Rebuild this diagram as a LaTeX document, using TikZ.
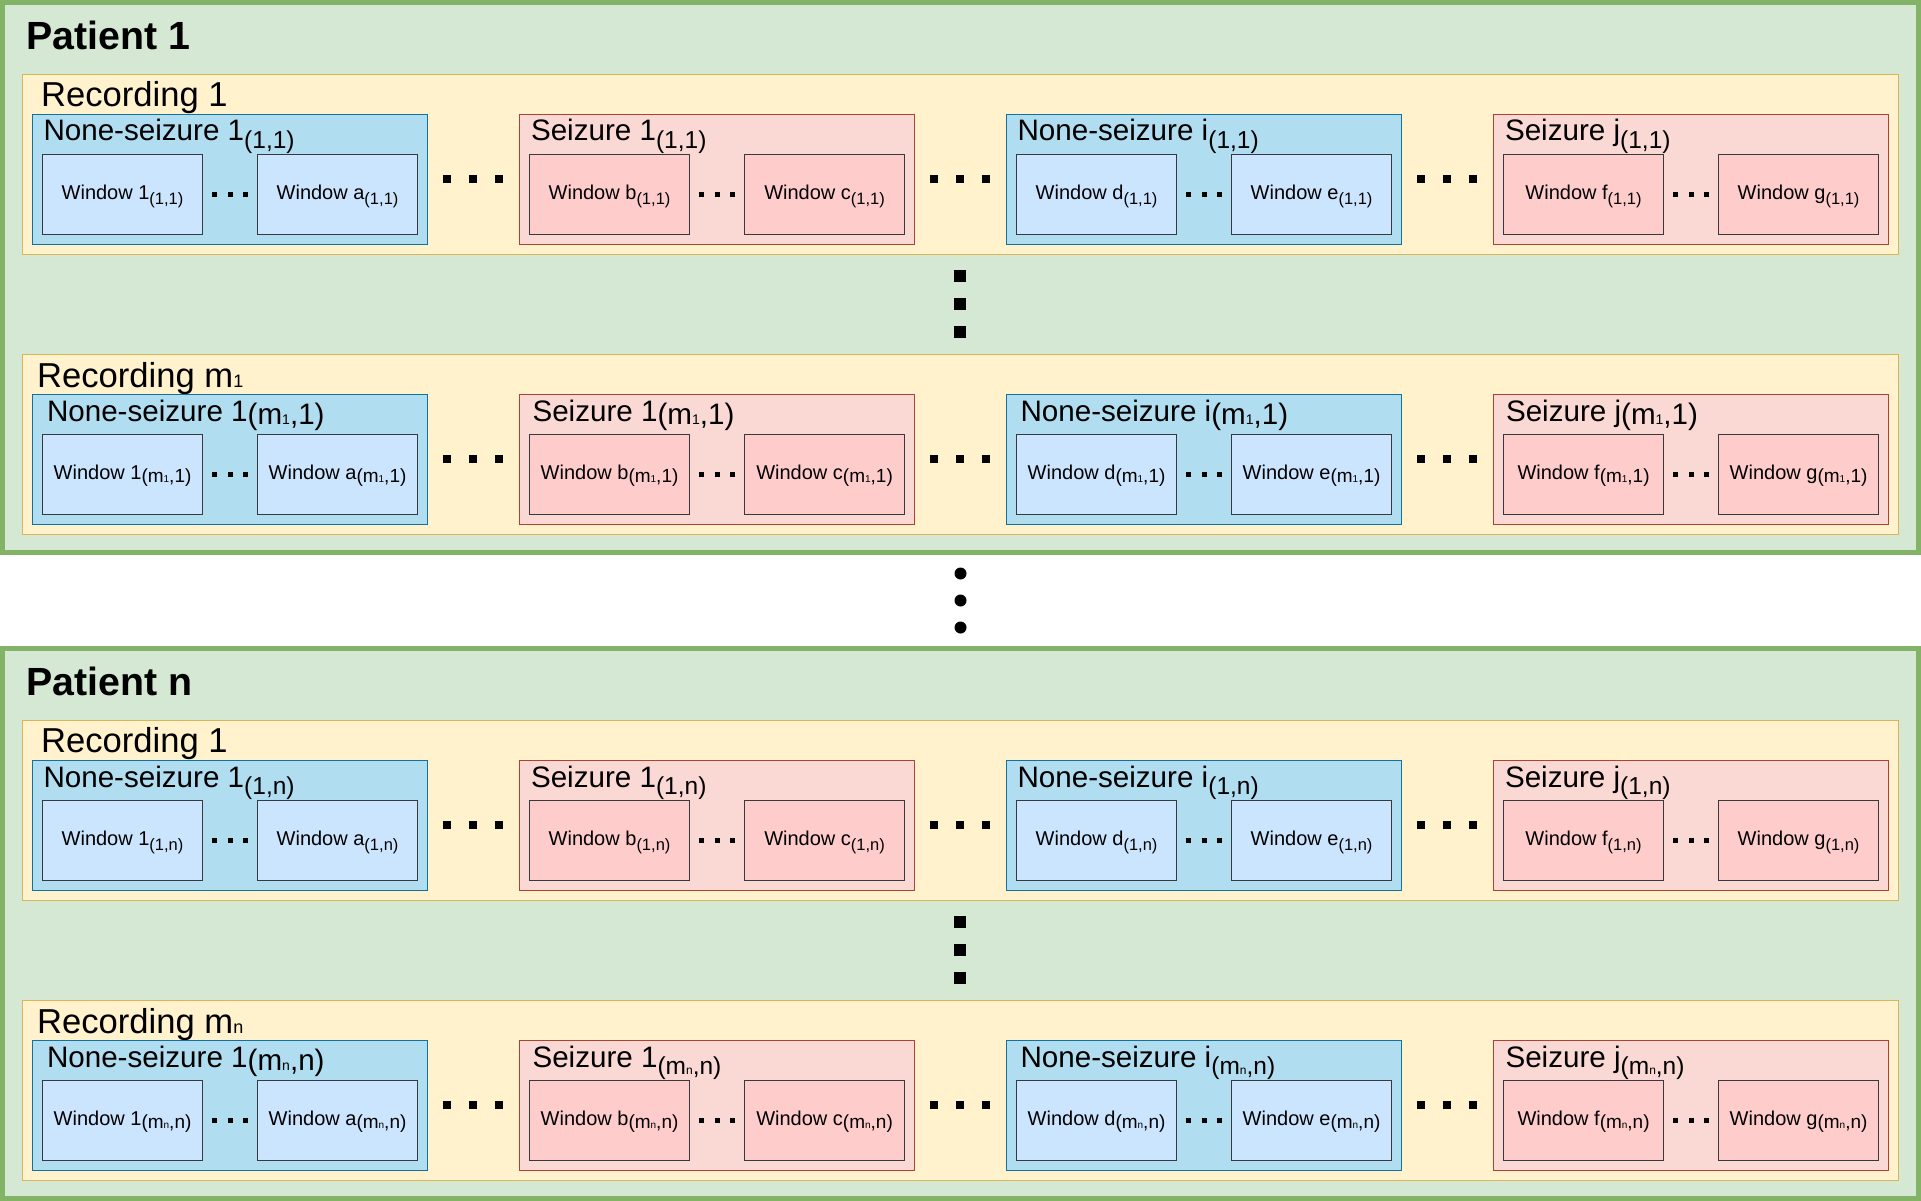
\documentclass[tikz,border=0pt]{standalone}
\usepackage{fontspec}
\setmainfont{Liberation Sans}
\usetikzlibrary{calc}
\definecolor{pgfill}{HTML}{D5E8D4}
\definecolor{pgline}{HTML}{82B366}
\definecolor{rcfill}{HTML}{FFF2CC}
\definecolor{rcline}{HTML}{D6B656}
\definecolor{nbfill}{HTML}{B1DDF0}
\definecolor{nbline}{HTML}{10739E}
\definecolor{szfill}{HTML}{FAD9D5}
\definecolor{szline}{HTML}{AE4132}
\definecolor{nwfill}{HTML}{CCE5FF}
\definecolor{swfill}{HTML}{FFCCCC}
\definecolor{wline}{HTML}{36393D}
\tikzset{
  box/.style={rectangle, inner sep=0pt, outer sep=0pt, anchor=north west},
  patbox/.style={box, fill=pgfill, draw=pgline, line width=5pt, minimum width=1916pt, minimum height=550pt},
  recbox/.style={box, fill=rcfill, draw=rcline, line width=1.3pt, minimum width=1876pt, minimum height=180pt},
  nbgrp/.style={box, fill=nbfill, draw=nbline, line width=1.3pt, minimum width=395pt, minimum height=130pt},
  szgrp/.style={box, fill=szfill, draw=szline, line width=1.3pt, minimum width=395pt, minimum height=130pt},
  nbwin/.style={box, fill=nwfill, draw=wline, line width=1.3pt, minimum width=160.5pt, minimum height=80pt},
  szwin/.style={box, fill=swfill, draw=wline, line width=1.3pt, minimum width=160.5pt, minimum height=80pt},
  plabel/.style={inner sep=0pt, anchor=base west, font=\fontsize{39.3}{40}\selectfont\bfseries},
  rlabel/.style={inner sep=0pt, anchor=base west, font=\fontsize{34.6}{35}\selectfont},
  glabel/.style={inner sep=0pt, anchor=base west, font=\fontsize{29.6}{30}\selectfont},
  wlabel/.style={inner sep=0pt, anchor=base, font=\fontsize{20}{20}\selectfont},
  sdot/.style={rectangle, fill=black, inner sep=0pt, minimum size=5pt},
  bdot/.style={rectangle, fill=black, inner sep=0pt, minimum size=8pt},
  vdot/.style={rectangle, fill=black, inner sep=0pt, minimum size=12pt},
  cdot/.style={circle, fill=black, inner sep=0pt, minimum size=12pt},
}
\newcommand\gsubx[1]{\raisebox{-7.5pt}{\fontsize{24.5}{25}\selectfont #1}}
\newcommand\wsubx[1]{\raisebox{-5pt}{\fontsize{16.5}{17}\selectfont #1}}
\newcommand\ginl[1]{\raisebox{-3pt}{#1}}
\newcommand\winl[1]{\raisebox{-2.5pt}{\fontsize{19}{19}\selectfont #1}}
\newcommand\tidx[2]{{\fontsize{#1}{#1}\selectfont #2}}
% #1 id, #2 x, #3 y, #4 nb/sz, #5 label, #6 win1, #7 win2, #8 label x offset
\newcommand\grp[8]{%
  \node[#4grp] (#1) at (#2,#3) {};
  \node[glabel] (#1-t) at ($(#1.north west)+(#8,26.7)$) {#5};
  \node[#4win] (#1-a) at ($(#1.north west)+(10,40)$) {};
  \node[#4win] (#1-b) at ($(#1.north west)+(225,40)$) {};
  \node[wlabel] (#1-at) at ($(#1-a.center)+(0,5.5)$) {#6};
  \node[wlabel] (#1-bt) at ($(#1-b.center)+(0,5.5)$) {#7};
  \foreach \i/\d in {1/-15.3,2/0,3/15.3}
    \node[sdot] (#1-s\i) at ($(#1-a.east)!0.5!(#1-b.west)+(\d,0)$) {};
}
\newcommand\gapdots[1]{%
  \foreach \p/\q in {1/2,2/3,3/4}{
    \foreach \i/\d in {1/-26,2/0,3/26}
      \node[bdot] (#1-d\p\i) at ($(#1-g\p.east)!0.5!(#1-g\q.west)+(\d,0)$) {};
  }%
}
\begin{document}
\begin{tikzpicture}[x=1pt,y=-1pt]
\useasboundingbox (0,0) rectangle (1921,1201);
% ---------- Patient 1 ----------
\node[patbox] (p1) at (2.5,2.5) {};
\node[plabel] (p1-t) at (26,49.5) {Patient 1};
\node[recbox] (p1r1) at (22.3,74.3) {};
\node[rlabel] (p1r1-t) at (41,106.8) {Recording 1};
\grp{p1r1-g1}{32.3}{114.3}{nb}{None-seizure 1\gsubx{(1,1)}}{Window 1\wsubx{(1,1)}}{Window a\wsubx{(1,1)}}{11}
\grp{p1r1-g2}{519.3}{114.3}{sz}{Seizure 1\gsubx{(1,1)}}{Window b\wsubx{(1,1)}}{Window c\wsubx{(1,1)}}{11.5}
\grp{p1r1-g3}{1006.3}{114.3}{nb}{None-seizure i\gsubx{(1,1)}}{Window d\wsubx{(1,1)}}{Window e\wsubx{(1,1)}}{11}
\grp{p1r1-g4}{1493.3}{114.3}{sz}{Seizure j\gsubx{(1,1)}}{Window f\wsubx{(1,1)}}{Window g\wsubx{(1,1)}}{11.5}
\gapdots{p1r1}
\node[recbox] (p1rm) at (22.3,354.3) {};
\node[rlabel] (p1rm-t) at (37,387.3) {Recording m\tidx{18}{1}};
\grp{p1rm-g1}{32.3}{394.3}{nb}{None-seizure 1\ginl{(m\tidx{14}{1},1)}}{Window 1\winl{(m\tidx{10}{1},1)}}{Window a\winl{(m\tidx{10}{1},1)}}{14.5}
\grp{p1rm-g2}{519.3}{394.3}{sz}{Seizure 1\ginl{(m\tidx{14}{1},1)}}{Window b\winl{(m\tidx{10}{1},1)}}{Window c\winl{(m\tidx{10}{1},1)}}{13}
\grp{p1rm-g3}{1006.3}{394.3}{nb}{None-seizure i\ginl{(m\tidx{14}{1},1)}}{Window d\winl{(m\tidx{10}{1},1)}}{Window e\winl{(m\tidx{10}{1},1)}}{14}
\grp{p1rm-g4}{1493.3}{394.3}{sz}{Seizure j\ginl{(m\tidx{14}{1},1)}}{Window f\winl{(m\tidx{10}{1},1)}}{Window g\winl{(m\tidx{10}{1},1)}}{12.5}
\gapdots{p1rm}
\foreach \i/\d in {1/-28,2/0,3/28}
  \node[vdot] (p1-v\i) at ($(p1r1.south)!0.5!(p1rm.north)+(0,\d)$) {};
% ---------- Patient n ----------
\node[patbox] (pn) at (2.5,648.5) {};
\node[plabel] (pn-t) at (26,695.5) {Patient n};
\node[recbox] (pnr1) at (22.3,720.3) {};
\node[rlabel] (pnr1-t) at (41,752.8) {Recording 1};
\grp{pnr1-g1}{32.3}{760.3}{nb}{None-seizure 1\gsubx{(1,n)}}{Window 1\wsubx{(1,n)}}{Window a\wsubx{(1,n)}}{11}
\grp{pnr1-g2}{519.3}{760.3}{sz}{Seizure 1\gsubx{(1,n)}}{Window b\wsubx{(1,n)}}{Window c\wsubx{(1,n)}}{11.5}
\grp{pnr1-g3}{1006.3}{760.3}{nb}{None-seizure i\gsubx{(1,n)}}{Window d\wsubx{(1,n)}}{Window e\wsubx{(1,n)}}{11}
\grp{pnr1-g4}{1493.3}{760.3}{sz}{Seizure j\gsubx{(1,n)}}{Window f\wsubx{(1,n)}}{Window g\wsubx{(1,n)}}{11.5}
\gapdots{pnr1}
\node[recbox] (pnrm) at (22.3,1000.3) {};
\node[rlabel] (pnrm-t) at (37,1033.3) {Recording m\tidx{18}{n}};
\grp{pnrm-g1}{32.3}{1040.3}{nb}{None-seizure 1\ginl{(m\tidx{14}{n},n)}}{Window 1\winl{(m\tidx{10}{n},n)}}{Window a\winl{(m\tidx{10}{n},n)}}{14.5}
\grp{pnrm-g2}{519.3}{1040.3}{sz}{Seizure 1\gsubx{(m\tidx{12}{n},n)}}{Window b\winl{(m\tidx{10}{n},n)}}{Window c\winl{(m\tidx{10}{n},n)}}{13}
\grp{pnrm-g3}{1006.3}{1040.3}{nb}{None-seizure i\gsubx{(m\tidx{12}{n},n)}}{Window d\winl{(m\tidx{10}{n},n)}}{Window e\winl{(m\tidx{10}{n},n)}}{14}
\grp{pnrm-g4}{1493.3}{1040.3}{sz}{Seizure j\gsubx{(m\tidx{12}{n},n)}}{Window f\winl{(m\tidx{10}{n},n)}}{Window g\winl{(m\tidx{10}{n},n)}}{12}
\gapdots{pnrm}
\foreach \i/\d in {1/-28,2/0,3/28}
  \node[vdot] (pn-v\i) at ($(pnr1.south)!0.5!(pnrm.north)+(0,\d)$) {};
% ---------- between patients ----------
\foreach \i/\d in {1/-27,2/0,3/27}
  \node[cdot] (pp-c\i) at ($(p1.south)!0.5!(pn.north)+(0,\d)$) {};
\end{tikzpicture}
\end{document}
